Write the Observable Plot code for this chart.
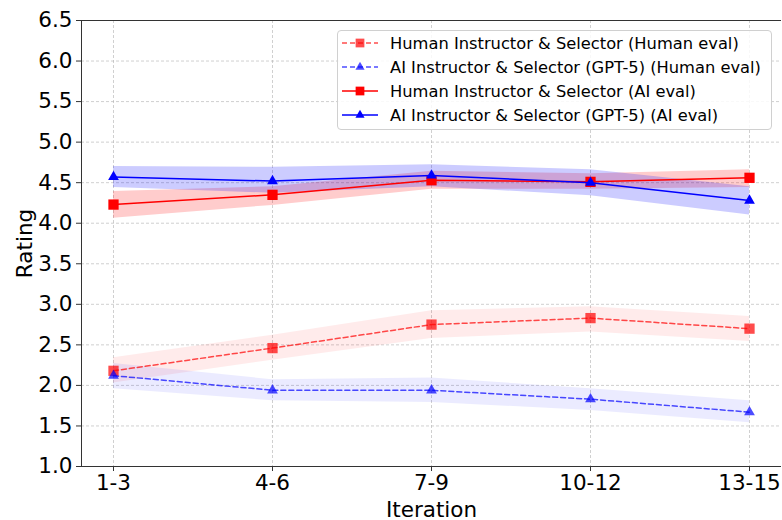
<!DOCTYPE html>
<html>
<head>
<meta charset="utf-8">
<script src="https://cdn.jsdelivr.net/npm/d3@7"></script>
<script src="https://cdn.jsdelivr.net/npm/@observablehq/plot@0.6"></script>
<style>
  html, body { margin: 0; padding: 0; background: #fff; }
  #wrap { position: relative; width: 782px; height: 520px; font-family: "DejaVu Sans", sans-serif; }
  #legend {
    position: absolute; left: 337px; top: 30px; width: 435px; height: 100px;
    border: 1px solid #d0d0d0; border-radius: 4px; background: rgba(255,255,255,0.85);
    font-size: 16.3px; color: #000; box-sizing: border-box; padding-top: 0px;
  }
  .row { display: flex; align-items: center; height: 24px; white-space: nowrap; }
  .row svg { margin-left: 3px; margin-right: 11px; }
</style>
</head>
<body>
<div id="wrap"><div id="legend"></div></div>
<script>
const iterations = ["1-3", "4-6", "7-9", "10-12", "13-15"];
const yTicks = [1.0, 1.5, 2.0, 2.5, 3.0, 3.5, 4.0, 4.5, 5.0, 5.5, 6.0, 6.5];

const seriesNames = [
  "Human Instructor & Selector (Human eval)",
  "AI Instructor & Selector (GPT-5) (Human eval)",
  "Human Instructor & Selector (AI eval)",
  "AI Instructor & Selector (GPT-5) (AI eval)"
];

// Human Instructor & Selector, human eval
const humanHumanMean = [2.18, 2.46, 2.75, 2.83, 2.70];
const humanHumanLo   = [2.03, 2.31, 2.58, 2.66, 2.54];
const humanHumanHi   = [2.34, 2.62, 2.92, 2.97, 2.85];
// AI Instructor & Selector (GPT-5), human eval
const aiHumanMean = [2.12, 1.94, 1.94, 1.83, 1.67];
const aiHumanLo   = [1.96, 1.81, 1.79, 1.69, 1.54];
const aiHumanHi   = [2.27, 2.07, 2.09, 1.96, 1.81];
// Human Instructor & Selector, AI eval
const humanAIMean = [4.23, 4.35, 4.53, 4.51, 4.56];
const humanAILo   = [4.06, 4.22, 4.42, 4.42, 4.44];
const humanAIHi   = [4.39, 4.45, 4.64, 4.61, 4.66];
// AI Instructor & Selector (GPT-5), AI eval
const aiAIMean = [4.57, 4.52, 4.59, 4.50, 4.28];
const aiAILo   = [4.44, 4.37, 4.45, 4.34, 4.10];
const aiAIHi   = [4.70, 4.69, 4.72, 4.66, 4.45];

const styles = [
  {color: "#ff0000", dash: "5,3", opacity: 0.7, band: 0.08, symbol: "square", r: 5.8},
  {color: "#0000ff", dash: "5,3", opacity: 0.7, band: 0.08, symbol: "triangle", r: 4.0},
  {color: "#ff0000", dash: null, opacity: 1, band: 0.2, symbol: "square", r: 5.8},
  {color: "#0000ff", dash: null, opacity: 1, band: 0.2, symbol: "triangle", r: 4.0}
];

function build(i, mean, lo, hi) {
  return iterations.map((it, k) => ({iter: it, series: seriesNames[i], idx: i, value: mean[k], lo: lo[k], hi: hi[k]}));
}
const groups = [
  build(0, humanHumanMean, humanHumanLo, humanHumanHi),
  build(1, aiHumanMean, aiHumanLo, aiHumanHi),
  build(2, humanAIMean, humanAILo, humanAIHi),
  build(3, aiAIMean, aiAILo, aiAIHi)
];

const marks = [
  Plot.gridY(yTicks, {stroke: "#b0b0b0", strokeOpacity: 0.6, strokeDasharray: "3,2"}),
  Plot.gridX(iterations, {stroke: "#b0b0b0", strokeOpacity: 0.6, strokeDasharray: "3,2"})
];
groups.forEach((g, i) => {
  const s = styles[i];
  marks.push(Plot.areaY(g, {x: "iter", y1: "lo", y2: "hi", fill: s.color, fillOpacity: s.band, curve: "linear"}));
});
groups.forEach((g, i) => {
  const s = styles[i];
  marks.push(Plot.line(g, {x: "iter", y: "value", stroke: s.color, strokeOpacity: s.opacity, strokeWidth: 1.5, strokeDasharray: s.dash}));
  marks.push(Plot.dot(g, {x: "iter", y: "value", symbol: s.symbol, fill: s.color, fillOpacity: s.opacity, stroke: "none", r: s.r}));
});
marks.push(
  Plot.ruleY([1.0, 6.5], {stroke: "#333", strokeWidth: 1}),
  Plot.frame({anchor: "left", stroke: "#333", strokeWidth: 1}),
  Plot.axisY(yTicks, {tickFormat: d => d.toFixed(1), fontSize: 21.5, tickSize: 5, tickPadding: 4, stroke: "#333",
    label: "Rating", labelAnchor: "center", labelArrow: "none", labelOffset: 65}),
  Plot.axisX(iterations, {fontSize: 21.5, tickSize: 5, tickPadding: 3, stroke: "#333",
    label: "Iteration", labelAnchor: "center", labelArrow: "none", labelOffset: 50})
);

const chart = Plot.plot({
  width: 782,
  height: 520,
  marginLeft: 81,
  marginRight: 1,
  marginTop: 20,
  marginBottom: 54,
  style: {fontFamily: "DejaVu Sans, sans-serif", color: "#000", background: "#fff", overflow: "visible"},
  x: {type: "point", domain: iterations, padding: 0.2},
  y: {domain: [1.0, 6.5]},
  marks
});
const wrap = document.getElementById("wrap");
wrap.insertBefore(chart, wrap.firstChild);

// legend
const legend = d3.select("#legend");
seriesNames.forEach((name, i) => {
  const s = styles[i];
  const row = legend.append("div").attr("class", "row");
  const svg = row.append("svg").attr("width", 38).attr("height", 16);
  svg.append("line").attr("x1", 1).attr("x2", 37).attr("y1", 8).attr("y2", 8)
    .attr("stroke", s.color).attr("stroke-opacity", s.opacity).attr("stroke-width", 1.5)
    .attr("stroke-dasharray", s.dash);
  const sym = s.symbol === "square" ? d3.symbolSquare : d3.symbolTriangle;
  const rr = s.r * 0.85;
  svg.append("path").attr("transform", "translate(19,8)")
    .attr("d", d3.symbol(sym, rr * rr * Math.PI)())
    .attr("fill", s.color).attr("fill-opacity", s.opacity);
  row.append("span").text(name);
});
</script>
</body>
</html>
